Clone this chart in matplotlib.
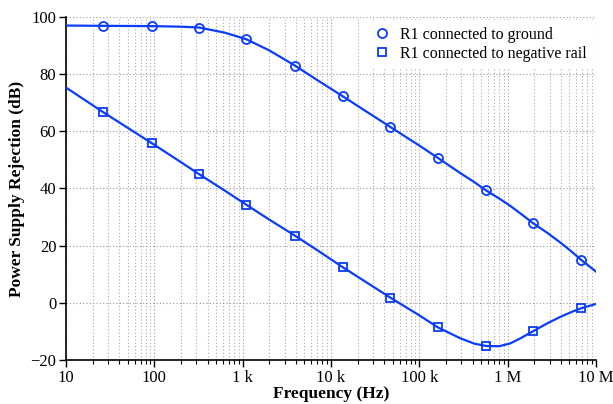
import matplotlib
matplotlib.use('Agg')
import matplotlib.pyplot as plt
from matplotlib.ticker import LogLocator, NullFormatter, FixedLocator, FixedFormatter

plt.rcParams['font.family'] = ['Liberation Serif', 'DejaVu Serif']

# curves
freq_line = [10, 26, 94, 200, 321, 630, 1.1e3, 2e3, 3.9e3, 7e3, 13.5e3, 47e3,
             100e3, 162e3, 290e3, 420e3, 570e3, 800e3, 1.07e6, 1.4e6, 1.95e6,
             2.8e6, 3.9e6, 5.2e6, 6.8e6, 10e6]
ground_line = [97.0, 96.9, 96.8, 96.6, 96.3, 94.5, 92.2, 88.3, 83.0, 77.9, 72.3, 61.5,
               55.0, 50.7, 45.4, 42.2, 39.3, 36.5, 33.9, 31.2, 27.8,
               24.5, 21.2, 18.1, 15.0, 10.9]
negrail_line = [75.3, 66.8, 55.8, 49.2, 45.0, 39.2, 34.3, 29.1, 23.5, 18.4, 12.5, 1.8,
                -4.4, -8.6, -12.4, -14.3, -15.1, -15.2, -14.2, -12.4, -9.9,
                -7.2, -5.0, -3.3, -1.9, -0.4]

# markers
freq_mark = [26, 94, 321, 1.1e3, 3.9e3, 13.5e3, 47e3, 162e3, 570e3, 1.95e6, 6.8e6]
ground_mark = [97.0, 96.9, 96.3, 92.2, 83.0, 72.3, 61.5, 50.7, 39.3, 27.8, 15.0]
negrail_mark = [66.8, 55.8, 45.0, 34.3, 23.5, 12.5, 1.8, -8.6, -15.1, -9.9, -1.9]

xticks = [10, 100, 1e3, 1e4, 1e5, 1e6, 1e7]
xtick_labels = ['10', '100', '1 k', '10 k', '100 k', '1 M', '10 M']

blue = '#0b3cf8'

fig = plt.figure(figsize=(6.13, 4.04), dpi=100)
ax = fig.add_axes([0.1077, 0.109, 0.8646, 0.849])

ax.plot(freq_line, ground_line, color=blue, lw=1.6, zorder=3)
ax.plot(freq_line, negrail_line, color=blue, lw=1.6, zorder=3)
ax.plot(freq_mark, ground_mark, ls='none', marker='o', ms=6.5, mfc='none', mec=blue,
        mew=1.3, zorder=4, label='R1 connected to ground')
ax.plot(freq_mark, negrail_mark, ls='none', marker='s', ms=5.5, mfc='none', mec=blue,
        mew=1.3, zorder=4, label='R1 connected to negative rail')

ax.set_xscale('log')
ax.set_xlim(10, 1e7)
ax.set_ylim(-20, 100)
ax.set_yticks(range(-20, 101, 20))
ax.xaxis.set_major_locator(FixedLocator(xticks))
ax.xaxis.set_major_formatter(FixedFormatter(xtick_labels))
ax.xaxis.set_minor_locator(LogLocator(base=10, subs=range(2, 10), numticks=20))
ax.xaxis.set_minor_formatter(NullFormatter())

ax.grid(which='major', color='#999999', ls=(0, (1, 2)), lw=0.8)
ax.grid(which='minor', axis='x', color='#aaaaaa', ls=(0, (1, 2)), lw=0.8)
ax.set_axisbelow(True)

for s in ['top', 'right']:
    ax.spines[s].set_visible(False)
ax.spines['left'].set_linewidth(1.2)
ax.spines['bottom'].set_linewidth(1.2)
ax.tick_params(which='major', direction='out', length=5, width=1, labelsize=12, pad=2)
ax.tick_params(which='minor', direction='out', length=3, width=0.8)

ax.set_xlabel('Frequency (Hz)', fontsize=12.5, fontweight='bold', labelpad=0)
ax.set_ylabel('Power Supply Rejection (dB)', fontsize=12.5, fontweight='bold', labelpad=4)

leg = ax.legend(loc='upper right', fontsize=11.5, frameon=True, fancybox=False,
                handlelength=1.0, handletextpad=0.6, borderaxespad=0.2,
                labelspacing=0.2, borderpad=0.4)
leg.get_frame().set_edgecolor('none')
leg.get_frame().set_facecolor('white')
leg.get_frame().set_alpha(1)

plt.savefig('out.png', dpi=100)
